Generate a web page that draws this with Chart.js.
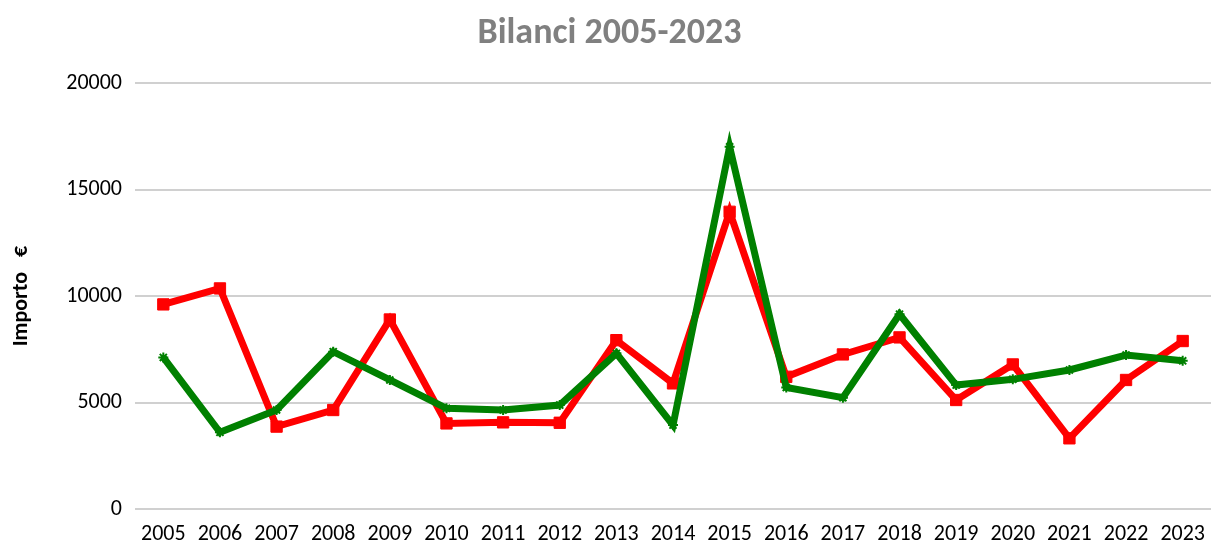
<!DOCTYPE html>
<html>
<head>
<meta charset="utf-8">
<script src="https://cdn.jsdelivr.net/npm/chart.js@4"></script>
<style>
  html, body { margin: 0; padding: 0; background: #fff; }
  #wrap { width: 1211px; height: 540px; }
</style>
</head>
<body>
<div id="wrap"><canvas id="myChart" width="1211" height="540"></canvas></div>
<script>
  // Dati
  const anni = ['2005','2006','2007','2008','2009','2010','2011','2012','2013','2014',
                '2015','2016','2017','2018','2019','2020','2021','2022','2023'];
  const serieVerde = [7120, 3600, 4650, 7390, 6060, 4730, 4650, 4880, 7310, 3940,
                      17010, 5710, 5230, 9150, 5820, 6090, 6530, 7230, 6960];
  const serieRossa = [9610, 10360, 3870, 4650, 8900, 4020, 4070, 4050, 7930, 5900,
                      13960, 6210, 7260, 8060, 5120, 6790, 3320, 6060, 7890];
  const tickY = [0, 5000, 10000, 15000, 20000];

  const font = "Calibri, Carlito, 'Open Sans', 'Liberation Sans', sans-serif";

  const ctx = document.getElementById('myChart');
  new Chart(ctx, {
    type: 'line',
    data: {
      labels: anni,
      datasets: [
        {
          label: 'Verde',
          data: serieVerde,
          borderColor: '#008000',
          backgroundColor: '#008000',
          borderWidth: 7,
          pointStyle: 'star',
          pointRadius: 5,
          pointBorderWidth: 2,
          tension: 0
        },
        {
          label: 'Rosso',
          data: serieRossa,
          borderColor: '#FF0000',
          backgroundColor: '#FF0000',
          borderWidth: 7,
          pointStyle: 'rect',
          pointRadius: 8,
          pointBorderWidth: 1,
          tension: 0
        }
      ]
    },
    options: {
      responsive: false,
      animation: false,
      layout: { autoPadding: false, padding: { top: 0, right: 0, bottom: 0, left: 8 } },
      plugins: {
        legend: { display: false },
        tooltip: { enabled: false },
        title: {
          display: true,
          text: 'Bilanci 2005-2023',
          color: '#808080',
          font: { family: font, size: 36, weight: 'bold' },
          padding: { top: 12, bottom: 28 }
        }
      },
      scales: {
        x: {
          offset: true,
          grid: { display: false },
          border: { display: false },
          ticks: { color: '#000', font: { family: font, size: 22 }, padding: 4, maxRotation: 0 },
          afterFit: s => { s.height = 31; }
        },
        y: {
          min: 0,
          max: 20000,
          afterBuildTicks: s => { s.ticks = tickY.map(v => ({ value: v })); },
          grid: { color: '#d0d0d0', lineWidth: 2, drawTicks: false },
          border: { display: false },
          ticks: {
            color: '#000',
            font: { family: font, size: 22 },
            padding: 13,
            callback: v => String(v)
          },
          title: {
            display: true,
            text: 'Importo   €',
            color: '#000',
            font: { family: font, size: 22, weight: 'bold' },
            padding: { top: 0, bottom: 0 }
          },
          afterFit: s => { s.width = 127; }
        }
      }
    }
  });
</script>
</body>
</html>
